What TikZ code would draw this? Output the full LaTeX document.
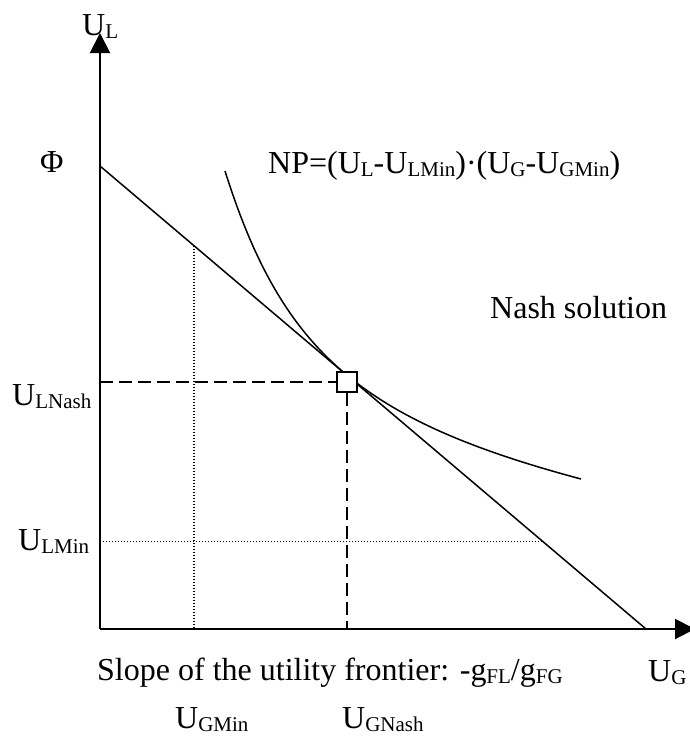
\documentclass[tikz,border=0pt]{standalone}
\usepackage{fontspec}
\setmainfont{Liberation Serif}
\usetikzlibrary{arrows.meta,calc}
\newcommand\sbs[1]{\raisebox{-3pt}{\fontsize{21}{21}\selectfont #1}}

\begin{document}
\begin{tikzpicture}[
  x=1pt, y=-1pt, >={Triangle[length=20pt,width=20pt]},
  font=\fontsize{32}{36}\selectfont,
  axis/.style={line width=2pt},
  frontier/.style={line width=1.5pt},
  guide/.style={line width=1.5pt, dash pattern=on 13pt off 6pt},
  minline/.style={line width=1.2pt, dash pattern=on 1.2pt off 1.8pt},
  lbl/.style={inner sep=0pt, anchor=base west},
  nashbox/.style={draw, line width=1.5pt, fill=white, minimum size=20pt, inner sep=0pt},
]
\useasboundingbox (0,0) rectangle (689,737);
% ---------------- axes ----------------
\coordinate (O) at (100,629);
\coordinate (ytip) at (100,33);
\coordinate (xtip) at (695,629);
\draw[axis,->] (O) -- (ytip);
\draw[axis,->] (O) -- (xtip);

% ---------------- frontier and Nash product curve ----------------
\coordinate (phi) at (100,166);
\coordinate (gmax) at (646,629);
\draw[frontier] (phi) -- (gmax);
\coordinate (np0) at (225,171);
\coordinate (np1) at (581,479);
\draw[frontier] (np0) .. controls (282.3,352.2) and (360.6,420) .. (np1);

% ---------------- minimum utilities ----------------
\coordinate (gminF) at ($(phi)!0.1722!(gmax)$);
\coordinate (lminF) at ($(phi)!0.811!(gmax)$);
\draw[minline] (gminF) -- (gminF |- O);
\draw[minline] (O |- lminF) -- (lminF);

% ---------------- Nash point ----------------
\node[nashbox] (nash) at (347,382) {};
\draw[guide] (O |- nash) -- (nash.west);
\draw[guide] (nash.south) -- (nash |- O);

% ---------------- labels ----------------
\node[lbl] (ylab) at (82,35) {U\sbs{L}};
\node[lbl] (philab) at (40,172) {Φ};
\node[lbl] (nplab) at (268,173) {NP=(U\sbs{L}-U\sbs{LMin})·(U\sbs{G}-U\sbs{GMin})};
\node[lbl] (nashlab) at (490,318) {Nash solution};
\node[lbl] (lnashlab) at (12,405) {U\sbs{LNash}};
\node[lbl] (lminlab) at (18,550) {U\sbs{LMin}};
\node[lbl] (slopelab) at (97,680) {Slope of the utility frontier: -g\sbs{FL}/g\sbs{FG}};
\node[lbl] (xlab) at (648,681) {U\sbs{G}};
\node[lbl] (gminlab) at (175,728) {U\sbs{GMin}};
\node[lbl] (gnashlab) at (342,728) {U\sbs{GNash}};
\end{tikzpicture}
\end{document}
